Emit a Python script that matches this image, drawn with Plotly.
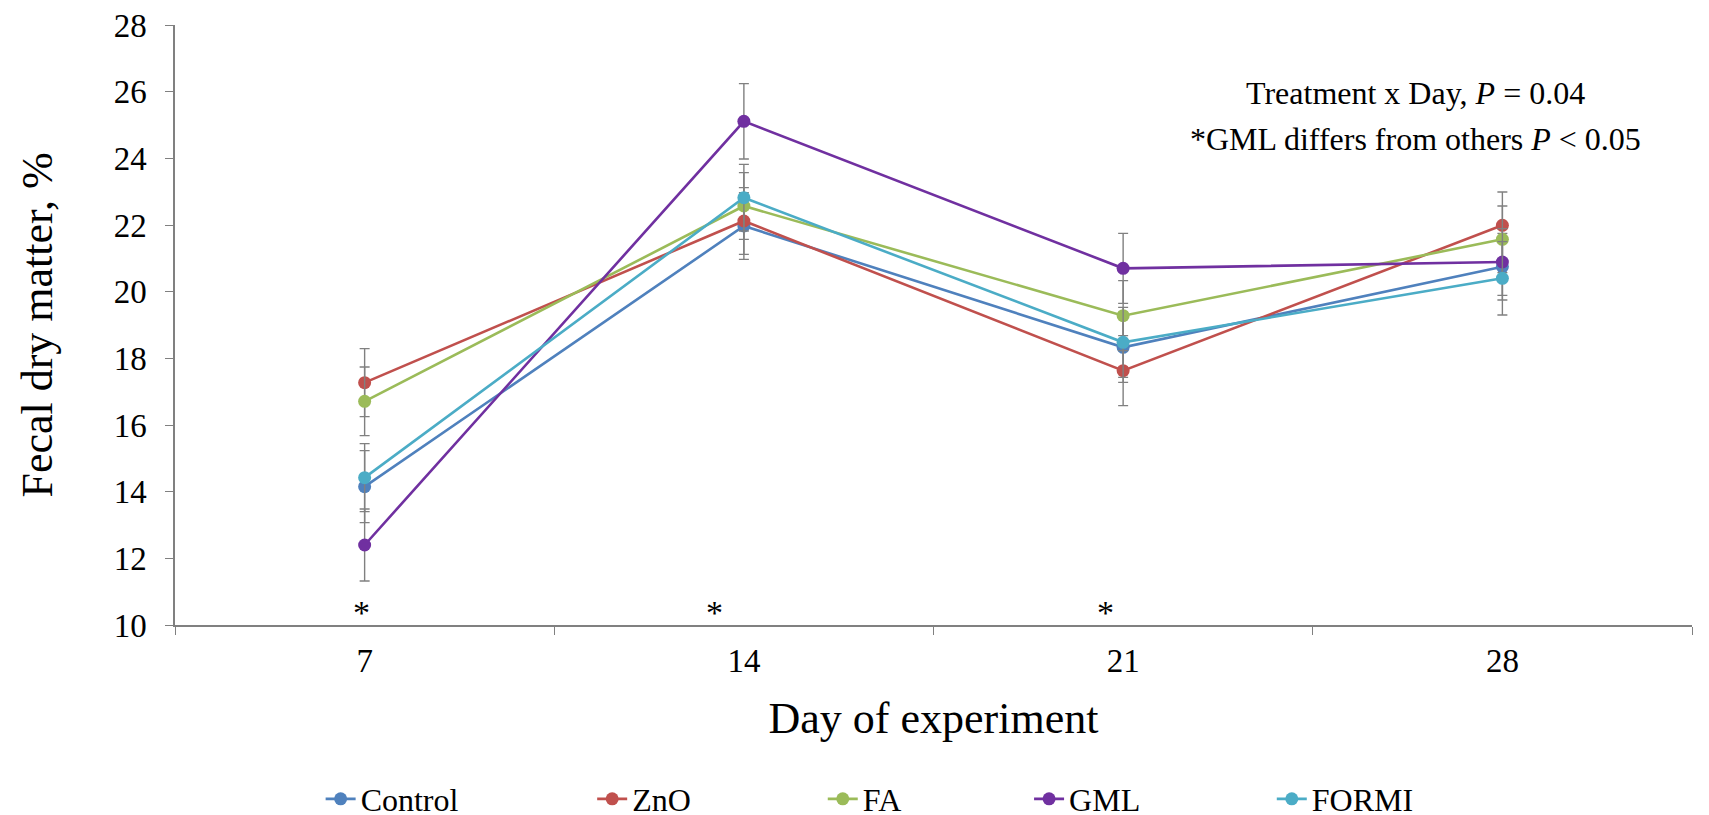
import plotly.graph_objects as go

days = ["7", "14", "21", "28"]
series_names = ["Control", "ZnO", "FA", "GML", "FORMI"]
control = [14.15, 21.97, 18.33, 20.75]
zno = [17.27, 22.12, 17.63, 21.99]
fa = [16.71, 22.57, 19.28, 21.57]
gml = [12.40, 25.11, 20.70, 20.89]
formi = [14.42, 22.82, 18.48, 20.40]
se_control = [1.08, 1.00, 1.05, 1.00]
se_zno = [1.02, 1.00, 1.05, 1.00]
se_fa = [1.03, 1.00, 1.05, 1.00]
se_gml = [1.08, 1.13, 1.05, 1.00]
se_formi = [1.02, 1.00, 1.05, 1.10]
colors = ["#4F81BD", "#C0504D", "#9BBB59", "#7030A0", "#4BACC6"]
star_days = ["7", "14", "21"]

values = [control, zno, fa, gml, formi]
ses = [se_control, se_zno, se_fa, se_gml, se_formi]

FONT = "Liberation Serif"
legend_ids = ["legend", "legend2", "legend3", "legend4", "legend5"]
legend_x = [0.096, 0.275, 0.427, 0.563, 0.723]

fig = go.Figure()
for name, vals, se, col, lid in zip(series_names, values, ses, colors, legend_ids):
    fig.add_trace(go.Scatter(
        x=days, y=vals, name=name, mode="lines+markers",
        line=dict(color=col, width=2.6),
        marker=dict(color=col, size=13),
        error_y=dict(type="data", array=se, visible=True,
                     color="#808080", thickness=1.4, width=5),
        legend=lid,
    ))

star_shift = [-3, -29, -18]
for d, sh in zip(star_days, star_shift):
    fig.add_annotation(x=days.index(d), y=10.0, yanchor="bottom", text="*", showarrow=False,
                       font=dict(family=FONT, size=34, color="black"), yshift=-8, xshift=sh)

fig.add_annotation(xref="paper", yref="paper", x=0.818, y=0.887, xanchor="center",
                   yanchor="middle", showarrow=False,
                   text="Treatment x Day, <i>P</i> = 0.04",
                   font=dict(family=FONT, size=32, color="black"))
fig.add_annotation(xref="paper", yref="paper", x=0.818, y=0.81, xanchor="center",
                   yanchor="middle", showarrow=False,
                   text="*GML differs from others <i>P</i> < 0.05",
                   font=dict(family=FONT, size=32, color="black"))

leg_common = dict(orientation="h", yref="container", y=0.0294, yanchor="middle", xanchor="left",
                  font=dict(family=FONT, size=32, color="black"),
                  itemwidth=30, bgcolor="rgba(0,0,0,0)")
layout_legends = {}
for lid, lx in zip(legend_ids, legend_x):
    layout_legends[lid] = dict(x=lx, **leg_common)

fig.update_layout(
    width=1709, height=815,
    margin=dict(l=167, r=25, t=17, b=198, autoexpand=False),
    paper_bgcolor="white", plot_bgcolor="white",
    font=dict(family=FONT, color="black"),
    showlegend=True,
    xaxis=dict(type="category", categoryorder="array", categoryarray=days,
               range=[-0.5, 3.5], autorange=False, automargin=False,
               showline=True, linecolor="#808080", linewidth=1.5,
               ticks="outside", ticklen=8, tickcolor="#808080", tickson="boundaries",
               showgrid=False, zeroline=False,
               tickfont=dict(family=FONT, size=33, color="black"),
               ticklabelstandoff=6,
               title=dict(text="Day of experiment", font=dict(family=FONT, size=44, color="black"),
                          standoff=24)),
    yaxis=dict(range=[10, 28], dtick=2, showline=True, linecolor="#808080", linewidth=1.5,
               automargin=False, ticklabeloverflow="allow",
               ticks="outside", ticklen=8, tickcolor="#808080",
               showgrid=False, zeroline=False,
               tickfont=dict(family=FONT, size=33, color="black"),
               ticklabelstandoff=12,
               title=dict(text="Fecal dry matter, %", font=dict(family=FONT, size=44, color="black"),
                          standoff=47)),
    **layout_legends,
)

fig.write_html("out.html")
